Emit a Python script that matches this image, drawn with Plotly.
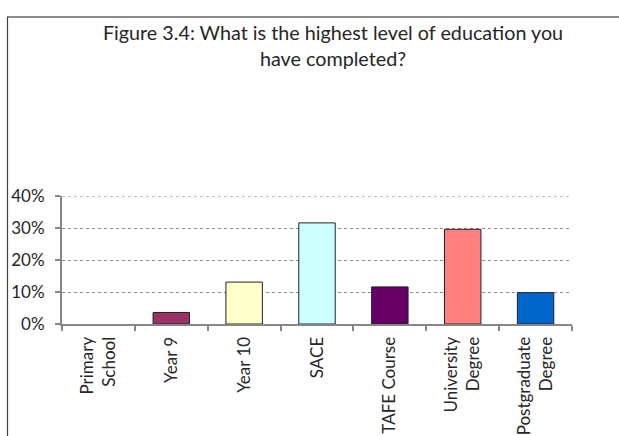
import plotly.graph_objects as go

categories = ["Primary<br>School", "Year 9", "Year 10", "SACE", "TAFE Course",
              "University<br>Degree", "Postgraduate<br>Degree"]
values = [0.0, 0.036, 0.131, 0.316, 0.116, 0.296, 0.098]
colors = ["#9999FF", "#993366", "#FFFFCC", "#CCFFFF", "#660066", "#FF8080", "#0066CC"]
y_ticks = [0, 0.1, 0.2, 0.3, 0.4]

W, H = 619, 436
L, R, T, B = 62, 47, 196, 112
pw, ph = W - L - R, H - T - B

def px_x(x):
    return (x - L) / pw

def px_y(y):
    return (H - B - y) / ph

outline_w = [0 if v == 0 else 1 for v in values]

fig = go.Figure(go.Bar(
    x=categories, y=values,
    marker=dict(color=colors, line=dict(color="#222222", width=outline_w)),
    width=0.5,
))

FONT = "Lato"
GRID = "#8c8c8c"
fig.update_layout(
    width=W, height=H,
    margin=dict(l=L, r=R, t=T, b=B, autoexpand=False),
    paper_bgcolor="white", plot_bgcolor="white",
    font=dict(family=FONT, size=16, color="#262626"),
    showlegend=False,
    title=dict(text="Figure 3.4: What is the highest level of education you<br>have completed?",
               x=333 / W, xanchor="center", xref="container",
               y=1 - 40 / H, yanchor="middle", yref="container",
               font=dict(family=FONT, size=19.75, color="#262626")),
    xaxis=dict(showline=True, linecolor="#868686", linewidth=2,
               ticks="outside", ticklen=5, tickcolor="#868686", tickwidth=2,
               tickangle=-90, showgrid=False,
               tickson="boundaries", ticklabelstandoff=4,
               tickfont=dict(family=FONT, size=17, color="#262626")),
    yaxis=dict(range=[0, max(y_ticks)], tickvals=y_ticks, tickformat=".0%",
               showline=True, linecolor="#868686", linewidth=2,
               ticks="outside", ticklen=5, tickcolor="#868686", tickwidth=2,
               showgrid=True, gridcolor=GRID, gridwidth=1, griddash="dot",
               zeroline=False, ticklabelstandoff=7,
               tickfont=dict(family=FONT, size=17, color="#262626")),
    shapes=[
        dict(type="line", xref="paper", yref="y",
             x0=0, x1=1, y0=max(y_ticks), y1=max(y_ticks),
             line=dict(color=GRID, width=1, dash="dot"), layer="below"),
        dict(type="line", xref="paper", yref="paper",
             x0=px_x(7), x1=px_x(W + 20), y0=px_y(17), y1=px_y(17),
             line=dict(color="#8c8c8c", width=2)),
        dict(type="line", xref="paper", yref="paper",
             x0=px_x(7.5), x1=px_x(7.5), y0=px_y(17), y1=px_y(H + 20),
             line=dict(color="#404040", width=1.2)),
    ],
)

fig.write_html("out.html")
